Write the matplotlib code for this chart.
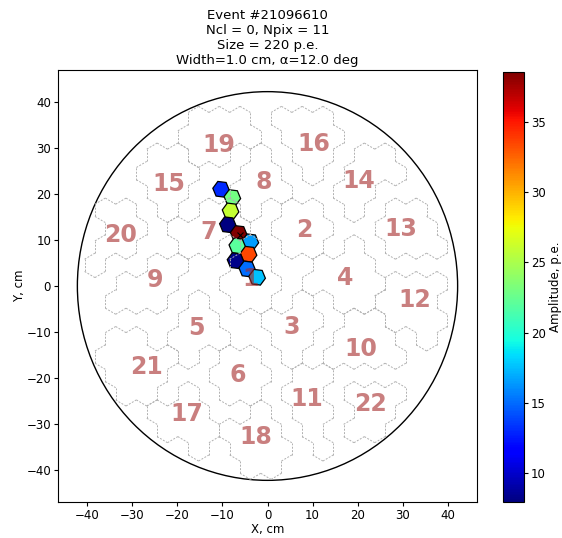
import numpy as np
import matplotlib
matplotlib.use('Agg')
import matplotlib.pyplot as plt
import matplotlib as mpl
from matplotlib.patches import RegularPolygon, Circle

# hit pixels of the event (x, y in cm, amplitude in p.e.)
pix_x = [-10.3, -7.8, -8.2, -8.8, -6.4, -3.8, -6.7, -4.2, -7.1, -4.5, -2.3]
pix_y = [21.0, 19.2, 16.3, 13.3, 11.4, 9.6, 8.7, 6.9, 5.5, 3.7, 1.9]
pix_amp = [13.0, 23.0, 26.0, 7.9, 38.6, 16.5, 22.0, 33.5, 8.2, 15.0, 17.5]

# cluster numbers and where their labels sit
cl_num = [19, 16, 15, 8, 14, 20, 7, 2, 13, 9, 1, 4, 12, 5, 3, 10, 21, 6, 11, 22, 17, 18]
cl_x = [-10.7, 10.2, -22.0, -0.9, 20.2, -32.7, -13.1, 8.2, 29.6, -24.9, -3.8, 17.3,
        32.7, -15.8, 5.3, 20.7, -26.9, -6.7, 8.7, 22.9, -17.8, -2.7]
cl_y = [30.6, 30.9, 22.1, 22.6, 22.9, 11.1, 11.7, 12.1, 12.4, 1.3, 1.5, 1.7,
        -3.0, -9.1, -8.9, -13.7, -17.6, -19.3, -24.5, -25.6, -27.8, -32.8]

cam_r = 42.2
vmin, vmax = 7.9, 38.6

fig = plt.figure(figsize=(5.62, 5.38), dpi=100)
ax = fig.add_axes([58/562, 36/538, 419/562, 432/538])

# cluster outlines: union of pointy-top hexes, pixels given to the nearest cluster
P = 4.6
R = P / np.sqrt(3)
cx = np.array(cl_x); cy = np.array(cl_y)
cells = {}
for j in range(-14, 15):
    for i in range(-14, 15):
        hx = i * P + (P / 2 if j % 2 else 0) + 0.8
        hy = j * P * np.sqrt(3) / 2 + 0.5
        if np.hypot(hx, hy) > cam_r - 2.5:
            continue
        d = np.hypot(cx - hx, cy - hy)
        o = np.argsort(d)
        if d[o[0]] > 11.5 or d[o[1]] - d[o[0]] < 2.8:
            continue
        cells.setdefault(o[0], []).append((hx, hy))

ang = np.radians(np.arange(30, 390, 60))
for k, hexes in cells.items():
    edges = {}
    for hx, hy in hexes:
        vx = hx + R * np.cos(ang)
        vy = hy + R * np.sin(ang)
        for m in range(6):
            a = (round(vx[m], 3), round(vy[m], 3))
            b = (round(vx[(m+1) % 6], 3), round(vy[(m+1) % 6], 3))
            key = tuple(sorted([a, b]))
            edges[key] = edges.get(key, 0) + 1
    for (a, b), n in edges.items():
        if n == 1:
            ax.plot([a[0], b[0]], [a[1], b[1]], color='#b0b0b0', lw=0.7,
                    ls=(0, (2, 1.5)), zorder=3)

ax.add_patch(Circle((0, 0), cam_r, fill=False, color='black', lw=1.0, zorder=1))

cmap = plt.get_cmap('jet')
norm = mpl.colors.Normalize(vmin=vmin, vmax=vmax)
for x, y, a in zip(pix_x, pix_y, pix_amp):
    ax.add_patch(RegularPolygon((x, y), numVertices=6, radius=1.85,
                                orientation=np.radians(23), facecolor=cmap(norm(a)),
                                edgecolor='black', lw=0.9, zorder=2))
ax.plot([-6.0], [11.1], 'x', color='black', ms=5, mew=0.8, zorder=4)

for n, x, y in zip(cl_num, cl_x, cl_y):
    ax.text(x, y, str(n), ha='center', va='center', fontsize=17, fontweight='bold',
            color='brown', alpha=0.6, zorder=5)

ax.set_xlim(-46.5, 46.5)
ax.set_ylim(-46.9, 46.9)
ax.set_xticks(np.arange(-40, 41, 10))
ax.set_yticks(np.arange(-40, 41, 10))
ax.tick_params(labelsize=8.5, length=3, pad=2)
ax.set_xlabel('X, cm', fontsize=8.5, labelpad=1)
ax.set_ylabel('Y, cm', fontsize=8.5, labelpad=0)
ax.set_title('Event #21096610\nNcl = 0, Npix = 11\nSize = 220 p.e.\nWidth=1.0 cm, \u03b1=12.0 deg',
             fontsize=9.5, pad=4)

cax = fig.add_axes([503/562, 36/538, 21/562, 430/538])
cb = mpl.colorbar.ColorbarBase(cax, cmap=cmap, norm=norm)
cb.set_label('Amplitude, p.e.', fontsize=8.5, labelpad=2)
cb.ax.tick_params(labelsize=8.5, length=3, pad=2)

fig.savefig('out.png', dpi=100)
